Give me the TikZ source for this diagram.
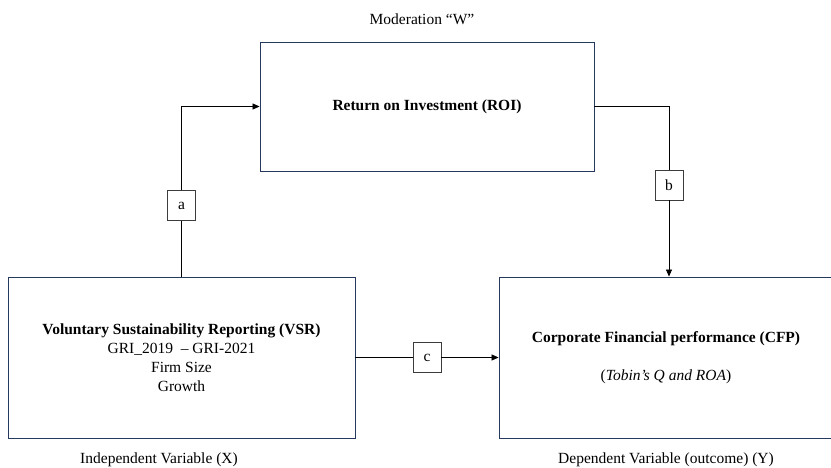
\documentclass[tikz,border=0pt]{standalone}
\usepackage{fontspec}
\setmainfont{Liberation Serif}
\usetikzlibrary{arrows.meta}
\definecolor{boxblue}{RGB}{38,58,96}
\definecolor{tagline}{RGB}{60,60,60}
\tikzset{
  varbox/.style={draw=boxblue, line width=0.9pt, align=center, inner sep=0pt},
  tagbox/.style={draw=tagline, line width=0.9pt, minimum width=28pt, minimum height=30pt, inner sep=0pt},
  link/.style={draw=black, line width=0.7pt},
  tip/.style={-{Triangle[length=7pt,width=6pt]}}
}
\begin{document}
\begin{tikzpicture}[x=1pt, y=-1pt, font=\fontsize{15.5}{19}\selectfont]
        \useasboundingbox (0,0) rectangle (831,467);
        \clip (0,0) rectangle (831,467);

        \node (roi) [varbox, minimum width=334pt, minimum height=129pt] at (427,106.5) {\textbf{Return on Investment (ROI)}};
        \node (vsr) [varbox, minimum width=347pt, minimum height=161pt] at (181.5,357.5)
          {\textbf{Voluntary Sustainability Reporting (VSR)}\\GRI\_2019 \ -- GRI-2021\\Firm Size\\Growth};
        \node (cfp) [varbox, minimum width=334pt, minimum height=161pt] at (666,357.5)
          {\textbf{Corporate Financial performance (CFP)}\\[19pt](\textit{Tobin's Q and ROA})};

        \node (w) at (422,19) {Moderation “W”};
        \node (x) at (159,460) {Independent Variable (X)};
        \node (y) at (666,460) {Dependent Variable (outcome) (Y)};

        \node (a) [tagbox] at (181.5,205.5) {a};
        \node (b) [tagbox] at (669,185) {b};
        \node (c) [tagbox] at (427,357.5) {c};

        \draw [link] (vsr.north) to (a.south);
        \draw [link,tip] (a.north) |- (roi.west);

        \draw [link] (roi.east) -| (b.north);
        \draw [link,tip] (b.south) to (b.south |- cfp.north);

        \draw [link] (vsr.east) to (c.west);
        \draw [link,tip] (c.east) to (cfp.west);
      \end{tikzpicture}
\end{document}
